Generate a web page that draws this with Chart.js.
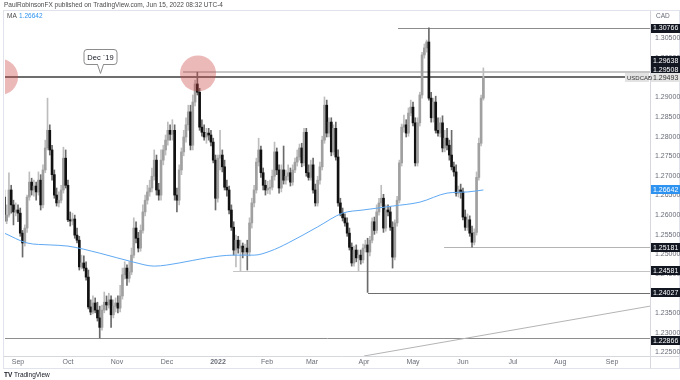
<!DOCTYPE html>
<html>
<head>
<meta charset="utf-8">
<title>USDCAD daily</title>
<script src="https://cdn.jsdelivr.net/npm/chart.js@4.4.0/dist/chart.umd.min.js"></script>
<style>
  html, body { margin: 0; padding: 0; background: #ffffff; }
  #wrap { width: 680px; height: 380px; }
</style>
</head>
<body>
<div id="wrap"><canvas id="chart" width="680" height="380"></canvas></div>
<script>
/* ============================================
   USDCAD daily candles, Aug 2021 - Jun 2022
   ============================================ */

// daily bars, bar n sits at x = n (weekdays only)
const opens = [
    1.2646, 1.2585, 1.2600, 1.2664, 1.2626, 1.2608, 1.2613, 1.2605, 1.2554, 1.2529,
    1.2567, 1.2646, 1.2684, 1.2664, 1.2674, 1.2659, 1.2689, 1.2626, 1.2715, 1.2771,
    1.2816, 1.2766, 1.2703, 1.2651, 1.2631, 1.2638, 1.2664, 1.2745, 1.2676, 1.2588,
    1.2585, 1.2590, 1.2549, 1.2536, 1.2468, 1.2478, 1.2465, 1.2442, 1.2366, 1.2353,
    1.2376, 1.2358, 1.2338, 1.2314, 1.2358, 1.2378, 1.2371, 1.2384, 1.2346, 1.2368,
    1.2376, 1.2363, 1.2394, 1.2448, 1.2465, 1.2439, 1.2455, 1.2498, 1.2567, 1.2541,
    1.2516, 1.2561, 1.2608, 1.2638, 1.2659, 1.2669, 1.2699, 1.2740, 1.2664, 1.2651,
    1.2740, 1.2766, 1.2791, 1.2816, 1.2806, 1.2816, 1.2651, 1.2638, 1.2715, 1.2761,
    1.2799, 1.2830, 1.2863, 1.2778, 1.2888, 1.2934, 1.2913, 1.2824, 1.2811, 1.2799,
    1.2809, 1.2804, 1.2786, 1.2740, 1.2643, 1.2745, 1.2753, 1.2723, 1.2671, 1.2664,
    1.2613, 1.2569, 1.2511, 1.2536, 1.2516, 1.2521, 1.2506, 1.2516, 1.2506, 1.2580,
    1.2631, 1.2664, 1.2735, 1.2766, 1.2708, 1.2676, 1.2664, 1.2668, 1.2671, 1.2699, 1.2761,
    1.2715, 1.2669, 1.2715, 1.2689, 1.2699, 1.2708, 1.2684, 1.2715, 1.2735, 1.2748,
    1.2771, 1.2733, 1.2811, 1.2708, 1.2696, 1.2728, 1.2664, 1.2631, 1.2689, 1.2723,
    1.2791, 1.2880, 1.2809, 1.2837, 1.2761, 1.2821, 1.2748, 1.2631, 1.2605, 1.2593,
    1.2580, 1.2554, 1.2518, 1.2478, 1.2511, 1.2491, 1.2498, 1.2486, 1.2516, 1.2524,
    1.2506, 1.2536, 1.2583, 1.2561, 1.2608, 1.2631, 1.2643, 1.2567, 1.2613, 1.2608,
    1.2569, 1.2493, 1.2580, 1.2638, 1.2733, 1.2824, 1.2830, 1.2809, 1.2860, 1.2875,
    1.2835, 1.2733, 1.2835, 1.2906, 1.3008, 1.3026, 1.3041, 1.2898, 1.2848, 1.2888,
    1.2816, 1.2809, 1.2835, 1.2771, 1.2796, 1.2778, 1.2753, 1.2723, 1.2710, 1.2656,
    1.2664, 1.2659, 1.2595, 1.2569, 1.2588, 1.2554, 1.2531, 1.2556, 1.2696, 1.2783, 1.2898
];
const highs = [
    1.2664, 1.2626, 1.2708, 1.2676, 1.2638, 1.2631, 1.2626, 1.2618, 1.2561, 1.2575,
    1.2651, 1.2710, 1.2694, 1.2689, 1.2684, 1.2710, 1.2703, 1.2728, 1.2791, 1.2898,
    1.2830, 1.2778, 1.2715, 1.2669, 1.2659, 1.2676, 1.2773, 1.2766, 1.2689, 1.2608,
    1.2605, 1.2600, 1.2567, 1.2546, 1.2498, 1.2496, 1.2481, 1.2460, 1.2384, 1.2394,
    1.2389, 1.2378, 1.2368, 1.2371, 1.2404, 1.2394, 1.2401, 1.2394, 1.2384, 1.2389,
    1.2394, 1.2421, 1.2465, 1.2481, 1.2473, 1.2481, 1.2516, 1.2593, 1.2583, 1.2556,
    1.2575, 1.2626, 1.2651, 1.2676, 1.2689, 1.2720, 1.2766, 1.2753, 1.2681, 1.2766,
    1.2778, 1.2804, 1.2837, 1.2830, 1.2843, 1.2830, 1.2669, 1.2728, 1.2771, 1.2816,
    1.2848, 1.2880, 1.2880, 1.2906, 1.2944, 1.2964, 1.2923, 1.2843, 1.2830, 1.2821,
    1.2821, 1.2816, 1.2796, 1.2753, 1.2753, 1.2816, 1.2766, 1.2740, 1.2689, 1.2674,
    1.2626, 1.2583, 1.2549, 1.2546, 1.2536, 1.2529, 1.2526, 1.2536, 1.2593, 1.2643,
    1.2676, 1.2745, 1.2796, 1.2776, 1.2720, 1.2689, 1.2686, 1.2689, 1.2715, 1.2786, 1.2771,
    1.2728, 1.2728, 1.2776, 1.2715, 1.2728, 1.2720, 1.2728, 1.2745, 1.2766, 1.2781,
    1.2783, 1.2821, 1.2821, 1.2728, 1.2740, 1.2745, 1.2679, 1.2699, 1.2735, 1.2801,
    1.2901, 1.2893, 1.2848, 1.2848, 1.2830, 1.2837, 1.2766, 1.2643, 1.2618, 1.2603,
    1.2593, 1.2567, 1.2529, 1.2521, 1.2524, 1.2511, 1.2511, 1.2526, 1.2536, 1.2541,
    1.2546, 1.2593, 1.2595, 1.2626, 1.2643, 1.2676, 1.2653, 1.2626, 1.2626, 1.2621,
    1.2583, 1.2588, 1.2648, 1.2740, 1.2832, 1.2855, 1.2843, 1.2873, 1.2893, 1.2888,
    1.2848, 1.2848, 1.2913, 1.3015, 1.3036, 1.3046, 1.3077, 1.2913, 1.2898, 1.2903,
    1.2848, 1.2848, 1.2853, 1.2816, 1.2821, 1.2791, 1.2816, 1.2735, 1.2728, 1.2674,
    1.2679, 1.2669, 1.2613, 1.2603, 1.2598, 1.2572, 1.2565, 1.2710, 1.2796, 1.2906, 1.2975
];
const lows = [
    1.2583, 1.2578, 1.2595, 1.2605, 1.2575, 1.2598, 1.2583, 1.2546, 1.2493, 1.2521,
    1.2556, 1.2638, 1.2651, 1.2648, 1.2638, 1.2651, 1.2613, 1.2618, 1.2708, 1.2766,
    1.2753, 1.2689, 1.2643, 1.2623, 1.2621, 1.2631, 1.2656, 1.2669, 1.2583, 1.2572,
    1.2575, 1.2541, 1.2529, 1.2460, 1.2463, 1.2458, 1.2434, 1.2361, 1.2346, 1.2348,
    1.2351, 1.2330, 1.2287, 1.2307, 1.2351, 1.2358, 1.2363, 1.2314, 1.2338, 1.2353,
    1.2351, 1.2353, 1.2386, 1.2437, 1.2421, 1.2429, 1.2448, 1.2491, 1.2529, 1.2506,
    1.2508, 1.2554, 1.2598, 1.2628, 1.2648, 1.2659, 1.2689, 1.2651, 1.2638, 1.2638,
    1.2728, 1.2753, 1.2778, 1.2791, 1.2791, 1.2638, 1.2608, 1.2626, 1.2703, 1.2751,
    1.2786, 1.2816, 1.2766, 1.2766, 1.2878, 1.2906, 1.2816, 1.2801, 1.2791, 1.2783,
    1.2791, 1.2776, 1.2733, 1.2613, 1.2633, 1.2715, 1.2710, 1.2664, 1.2648, 1.2603,
    1.2561, 1.2498, 1.2468, 1.2503, 1.2458, 1.2491, 1.2498, 1.2460, 1.2496, 1.2567,
    1.2621, 1.2656, 1.2725, 1.2696, 1.2664, 1.2651, 1.2655, 1.2653, 1.2664, 1.2689, 1.2703,
    1.2656, 1.2659, 1.2679, 1.2679, 1.2689, 1.2674, 1.2676, 1.2708, 1.2725, 1.2740,
    1.2723, 1.2725, 1.2699, 1.2689, 1.2689, 1.2656, 1.2623, 1.2623, 1.2679, 1.2715,
    1.2783, 1.2799, 1.2799, 1.2751, 1.2753, 1.2740, 1.2623, 1.2598, 1.2585, 1.2572,
    1.2546, 1.2511, 1.2470, 1.2470, 1.2481, 1.2458, 1.2475, 1.2478, 1.2506, 1.2403,
    1.2496, 1.2529, 1.2551, 1.2554, 1.2600, 1.2623, 1.2556, 1.2559, 1.2598, 1.2561,
    1.2465, 1.2486, 1.2572, 1.2631, 1.2725, 1.2811, 1.2799, 1.2801, 1.2853, 1.2827,
    1.2725, 1.2725, 1.2827, 1.2898, 1.3000, 1.3015, 1.2893, 1.2837, 1.2837, 1.2809,
    1.2801, 1.2799, 1.2761, 1.2761, 1.2766, 1.2740, 1.2715, 1.2699, 1.2648, 1.2646,
    1.2643, 1.2588, 1.2561, 1.2561, 1.2546, 1.2518, 1.2524, 1.2549, 1.2689, 1.2776, 1.2893
];
const closes = [
    1.2585, 1.2600, 1.2664, 1.2626, 1.2608, 1.2613, 1.2605, 1.2554, 1.2529, 1.2567,
    1.2646, 1.2684, 1.2664, 1.2674, 1.2659, 1.2689, 1.2626, 1.2715, 1.2771, 1.2816,
    1.2766, 1.2703, 1.2651, 1.2631, 1.2638, 1.2664, 1.2745, 1.2676, 1.2588, 1.2585,
    1.2590, 1.2549, 1.2536, 1.2468, 1.2478, 1.2465, 1.2442, 1.2366, 1.2353, 1.2376,
    1.2358, 1.2338, 1.2314, 1.2358, 1.2378, 1.2371, 1.2384, 1.2346, 1.2368, 1.2376,
    1.2363, 1.2394, 1.2448, 1.2465, 1.2439, 1.2455, 1.2498, 1.2567, 1.2541, 1.2516,
    1.2561, 1.2608, 1.2638, 1.2659, 1.2669, 1.2699, 1.2740, 1.2664, 1.2651, 1.2740,
    1.2766, 1.2791, 1.2816, 1.2806, 1.2816, 1.2651, 1.2638, 1.2715, 1.2761, 1.2799,
    1.2830, 1.2863, 1.2778, 1.2888, 1.2934, 1.2913, 1.2824, 1.2811, 1.2799, 1.2809,
    1.2804, 1.2786, 1.2740, 1.2643, 1.2745, 1.2753, 1.2723, 1.2671, 1.2664, 1.2613,
    1.2569, 1.2511, 1.2536, 1.2516, 1.2521, 1.2506, 1.2516, 1.2506, 1.2580, 1.2631,
    1.2664, 1.2735, 1.2766, 1.2708, 1.2676, 1.2664, 1.2668, 1.2671, 1.2699, 1.2761, 1.2715,
    1.2669, 1.2715, 1.2689, 1.2699, 1.2708, 1.2684, 1.2715, 1.2735, 1.2748, 1.2771,
    1.2733, 1.2811, 1.2708, 1.2696, 1.2728, 1.2664, 1.2631, 1.2689, 1.2723, 1.2791,
    1.2880, 1.2809, 1.2837, 1.2761, 1.2821, 1.2748, 1.2631, 1.2605, 1.2593, 1.2580,
    1.2554, 1.2518, 1.2478, 1.2511, 1.2491, 1.2498, 1.2486, 1.2516, 1.2524, 1.2506,
    1.2536, 1.2583, 1.2561, 1.2608, 1.2631, 1.2643, 1.2567, 1.2613, 1.2608, 1.2569,
    1.2493, 1.2580, 1.2638, 1.2733, 1.2824, 1.2830, 1.2809, 1.2860, 1.2875, 1.2835,
    1.2733, 1.2835, 1.2906, 1.3008, 1.3026, 1.3041, 1.2898, 1.2848, 1.2888, 1.2816,
    1.2809, 1.2835, 1.2771, 1.2796, 1.2778, 1.2753, 1.2723, 1.2710, 1.2656, 1.2664,
    1.2659, 1.2595, 1.2569, 1.2588, 1.2554, 1.2531, 1.2556, 1.2696, 1.2783, 1.2898, 1.2949
];

// moving average at a few bars
const maIdx  = [1, 11, 21, 29, 43, 58, 67, 78, 90, 102, 111, 118, 126, 139, 150, 159, 172, 184, 196, 205, 212];
const maVals = [1.2554, 1.2529, 1.2524, 1.2521, 1.2503, 1.2480, 1.2470, 1.2478, 1.2491, 1.2498, 1.2498,
                1.2508, 1.2529, 1.2570, 1.2605, 1.2613, 1.2623, 1.2633, 1.2656, 1.2659, 1.2664];
const maLast = 1.26642;

// month ticks on the bar axis
const tickIdx  = [7, 29, 50.6, 72.6, 95.1, 116.7, 136.5, 159.4, 181, 203, 225, 245.8, 268.7];
const tickText = ['Sep', 'Oct', 'Nov', 'Dec', '2022', 'Feb', 'Mar', 'Apr', 'May', 'Jun', 'Jul', 'Aug', 'Sep'];

// horizontal levels and the bar where each one starts
const levelVals = [1.30766, 1.29638, 1.29508, 1.25181, 1.24581, 1.24027, 1.22866];
const levelFrom = [174.4, 79.7, 0, 194.7, 101.7, 161.2, 0];

// rising trend line (two anchor points)
const trendX = [159.4, 285.4];
const trendY = [1.2241, 1.2368];

// highlighted tops
const circleX = [-0.9, 86.3];
const circleY = [1.2952, 1.2961];

const lastPrice = 1.29493;
const calloutX = 43;
const calloutY = 1.29508;

const FONT = '"Liberation Sans", Arial, sans-serif';

const levelStyle = [
    { c: '#8c8c8c', w: 1 },
    { c: '#c6c6c6', w: 2 },
    { c: '#6e6e6e', w: 2 },
    { c: '#b4b4b4', w: 1 },
    { c: '#c4c4c4', w: 1 },
    { c: '#6e6e6e', w: 1 },
    { c: '#8e8e8e', w: 1 }
];

function drawTag(ctx, yc, text, bg, fg) {
    ctx.fillStyle = bg;
    ctx.fillRect(651, Math.round(yc - 4.5), 29, 9);
    ctx.fillStyle = fg;
    ctx.font = '7px ' + FONT;
    ctx.textAlign = 'left';
    ctx.textBaseline = 'middle';
    ctx.fillText(text, 653, yc + 0.5);
}

const decorPlugin = {
    id: 'decor',
    beforeDraw(chart) {
        const ctx = chart.ctx;
        ctx.save();
        ctx.fillStyle = '#ffffff';
        ctx.fillRect(0, 0, chart.width, chart.height);
        ctx.strokeStyle = '#e0e3eb';
        ctx.lineWidth = 1;
        ctx.strokeRect(3.5, 10.5, 676, 358);
        ctx.fillStyle = '#4a4a4a';
        ctx.font = '6.5px ' + FONT;
        ctx.textBaseline = 'middle';
        ctx.fillText('PaulRobinsonFX published on TradingView.com, Jun 15, 2022 08:32 UTC-4', 4, 5);
        ctx.restore();
    },
    beforeDatasetsDraw(chart) {
        const { ctx, chartArea: a, scales: { x, y } } = chart;
        ctx.save();
        ctx.beginPath();
        ctx.rect(a.left, a.top, a.right - a.left, a.bottom - a.top);
        ctx.clip();
        levelVals.forEach((v, i) => {
            const st = levelStyle[i];
            const py = Math.round(y.getPixelForValue(v)) + (st.w % 2 ? 0.5 : 0);
            const px = Math.max(a.left, x.getPixelForValue(levelFrom[i]));
            ctx.strokeStyle = st.c;
            ctx.lineWidth = st.w;
            ctx.beginPath();
            ctx.moveTo(px, py);
            ctx.lineTo(a.right, py);
            ctx.stroke();
        });
        ctx.restore();
    },
    afterDraw(chart) {
        const { ctx, scales: { x, y } } = chart;
        ctx.save();

        // axis separators
        ctx.strokeStyle = '#d6d8de';
        ctx.lineWidth = 1;
        ctx.beginPath();
        ctx.moveTo(650.5, 10.5); ctx.lineTo(650.5, 368.5);
        ctx.moveTo(3.5, 356.5); ctx.lineTo(679.5, 356.5);
        ctx.stroke();

        // Dec '19 callout
        const cx = Math.round(x.getPixelForValue(calloutX)) + 0.5;
        const ly = y.getPixelForValue(calloutY);
        const bw = 33, bh = 15, bx = cx - bw / 2, by = Math.round(ly - 28.5) + 0.5;
        ctx.fillStyle = '#ffffff';
        ctx.strokeStyle = '#8c8c8c';
        ctx.beginPath();
        ctx.roundRect(bx, by, bw, bh, 3);
        ctx.fill();
        ctx.stroke();
        ctx.beginPath();
        ctx.moveTo(cx - 3, by + bh);
        ctx.lineTo(cx, ly - 4);
        ctx.lineTo(cx + 3, by + bh);
        ctx.fill();
        ctx.stroke();
        ctx.fillStyle = '#ffffff';
        ctx.fillRect(cx - 2.5, by + bh - 1, 5, 1.5);
        ctx.fillStyle = '#131722';
        ctx.font = '7.5px ' + FONT;
        ctx.textAlign = 'center';
        ctx.textBaseline = 'middle';
        ctx.fillText('Dec `19', cx, by + bh / 2 + 0.5);

        // price tags on the right axis
        const yLast = y.getPixelForValue(lastPrice);
        drawTag(ctx, y.getPixelForValue(levelVals[0]), '1.30766', '#131722', '#ffffff');
        drawTag(ctx, yLast - 17, '1.29638', '#131722', '#ffffff');
        drawTag(ctx, yLast - 8.5, '1.29508', '#131722', '#ffffff');
        drawTag(ctx, yLast, lastPrice.toFixed(5), '#e3e3e3', '#333333');
        drawTag(ctx, y.getPixelForValue(maLast), maLast.toFixed(5), '#2e93f0', '#ffffff');
        drawTag(ctx, y.getPixelForValue(levelVals[3]), '1.25181', '#131722', '#ffffff');
        drawTag(ctx, y.getPixelForValue(levelVals[4]), '1.24581', '#131722', '#ffffff');
        drawTag(ctx, y.getPixelForValue(levelVals[5]), '1.24027', '#131722', '#ffffff');
        drawTag(ctx, y.getPixelForValue(levelVals[6]) + 2, '1.22866', '#131722', '#ffffff');

        // symbol label left of the last price
        ctx.fillStyle = '#e3e3e3';
        ctx.fillRect(625, Math.round(yLast - 4.5), 24, 9);
        ctx.fillStyle = '#333333';
        ctx.font = '6px ' + FONT;
        ctx.textAlign = 'left';
        ctx.fillText('USDCAD', 627, yLast + 0.5);

        // currency + indicator legend
        ctx.fillStyle = '#6a6d78';
        ctx.font = '6.5px ' + FONT;
        ctx.fillText('CAD', 656, 16);
        ctx.fillStyle = '#4a4a4a';
        ctx.fillText('MA', 7, 16);
        ctx.fillStyle = '#2e93f0';
        ctx.fillText(maLast.toFixed(5), 19, 16);

        // footer logo
        ctx.fillStyle = '#131722';
        ctx.font = 'bold 6.5px ' + FONT;
        ctx.fillText('TV', 4, 375);
        ctx.font = '6.5px ' + FONT;
        ctx.fillText('TradingView', 14, 375);
        ctx.restore();
    }
};

const barPos = closes.map((_, i) => i + 1);
const isUp = closes.map((c, i) => c >= opens[i]);

new Chart(document.getElementById('chart'), {
    type: 'bar',
    data: {
        datasets: [
            {
                type: 'bubble',
                data: circleX.map((cx, i) => ({ x: cx, y: circleY[i], r: 18 })),
                backgroundColor: 'rgba(205, 70, 70, 0.38)',
                borderWidth: 0,
                clip: 0,
                order: 0
            },
            {
                type: 'line',
                data: maIdx.map((v, i) => ({ x: v, y: maVals[i] })),
                borderColor: '#5fa9f3',
                borderWidth: 1,
                pointRadius: 0,
                cubicInterpolationMode: 'monotone',
                order: 1
            },
            {
                type: 'line',
                data: trendX.map((v, i) => ({ x: v, y: trendY[i] })),
                borderColor: '#b4b4b4',
                borderWidth: 1,
                pointRadius: 0,
                order: 1
            },
            {
                label: 'body',
                data: barPos.map((p, i) => ({ x: p, y: [opens[i], closes[i]] })),
                backgroundColor: isUp.map(u => u ? '#a0a0a0' : '#111111'),
                barThickness: 2,
                minBarLength: 1,
                grouped: false,
                order: 2
            },
            {
                label: 'wick',
                data: barPos.map((p, i) => ({ x: p, y: [lows[i], highs[i]] })),
                backgroundColor: isUp.map(u => u ? '#bdbdbd' : '#6a6a6a'),
                barThickness: 1,
                grouped: false,
                order: 3
            }
        ]
    },
    options: {
        responsive: false,
        animation: false,
        devicePixelRatio: 1,
        layout: { autoPadding: false, padding: { left: 5, right: 0, top: 11, bottom: 11 } },
        plugins: {
            legend: { display: false },
            tooltip: { enabled: false }
        },
        scales: {
            x: {
                type: 'linear',
                min: 1.27,
                max: 285.4,
                offset: false,
                grid: { display: false, drawTicks: false },
                border: { display: false },
                afterBuildTicks: scale => {
                    scale.ticks = tickIdx.map(v => ({ value: v }));
                },
                afterFit: scale => { scale.height = 13; },
                ticks: {
                    autoSkip: false,
                    maxRotation: 0,
                    minRotation: 0,
                    padding: 2,
                    color: '#6a6d78',
                    font: c => ({
                        family: FONT,
                        size: 7,
                        weight: c.tick && c.tick.value === 95.1 ? 'bold' : 'normal'
                    }),
                    callback: (v, i) => tickText[i]
                }
            },
            y: {
                position: 'right',
                min: 1.2241,
                max: 1.3120,
                grid: { display: false, drawTicks: false },
                border: { display: false },
                afterFit: scale => { scale.width = 30; },
                ticks: {
                    stepSize: 0.005,
                    includeBounds: false,
                    padding: 5,
                    color: '#6a6d78',
                    font: { family: FONT, size: 7 },
                    callback: v => (v > 1.308 ? '' : Number(v).toFixed(5))
                }
            }
        }
    },
    plugins: [decorPlugin]
});
</script>
</body>
</html>
